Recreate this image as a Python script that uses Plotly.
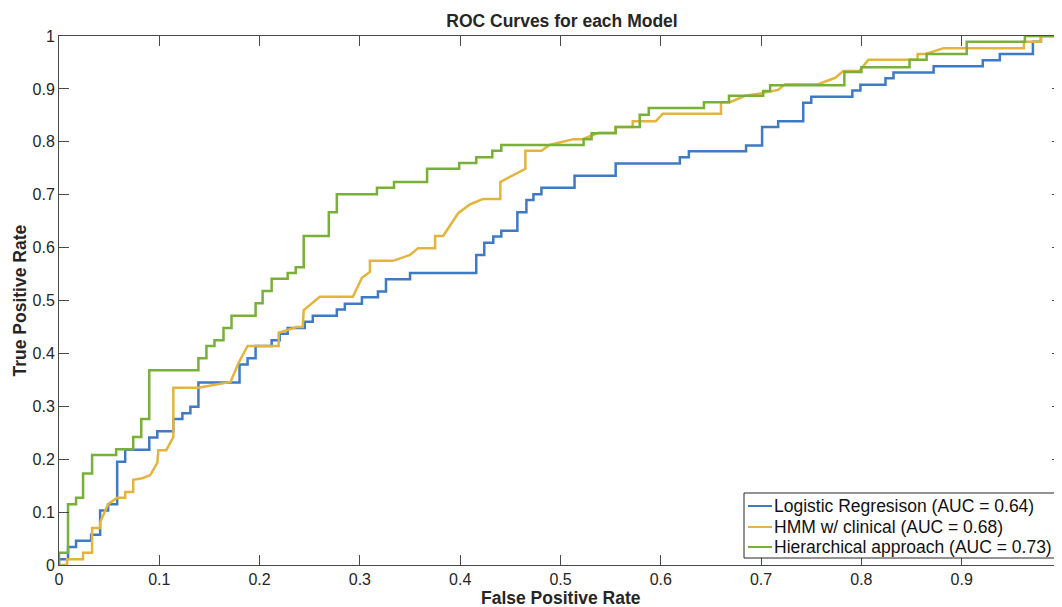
import plotly.graph_objects as go

# ---------------- data ----------------
series_names = [
    "Logistic Regresison (AUC = 0.64)",
    "HMM w/ clinical (AUC = 0.68)",
    "Hierarchical approach (AUC = 0.73)",
]

# Logistic regression ROC: staircase rise points (FPR, TPR after rise)
lr_fpr = [0, 0, 0.009, 0.017, 0.032, 0.041, 0.049, 0.058, 0.066, 0.090, 0.098,
          0.114, 0.123, 0.131, 0.139, 0.180, 0.188, 0.196, 0.212, 0.220, 0.228,
          0.245, 0.253, 0.277, 0.285, 0.302, 0.318, 0.326, 0.350, 0.416, 0.424,
          0.433, 0.441, 0.457, 0.466, 0.473, 0.481, 0.514, 0.555, 0.619, 0.628,
          0.685, 0.701, 0.717, 0.742, 0.750, 0.791, 0.799, 0.824, 0.832, 0.872,
          0.921, 0.938, 0.971, 0.979, 1.0]
lr_tpr = [0, 0.011, 0.034, 0.046, 0.057, 0.103, 0.115, 0.195, 0.218, 0.241, 0.253,
          0.276, 0.287, 0.299, 0.345, 0.379, 0.391, 0.414, 0.425, 0.437, 0.448,
          0.460, 0.471, 0.483, 0.494, 0.506, 0.517, 0.540, 0.552, 0.586, 0.609,
          0.621, 0.632, 0.667, 0.690, 0.701, 0.713, 0.736, 0.759, 0.771, 0.782,
          0.793, 0.828, 0.839, 0.874, 0.885, 0.897, 0.908, 0.920, 0.931, 0.943,
          0.954, 0.966, 0.989, 1.0, 1.0]

# HMM w/ clinical ROC: polyline vertices (FPR, TPR)
hmm_fpr = [0, 0.008, 0.008, 0.024, 0.024, 0.033, 0.033, 0.041, 0.041, 0.049,
           0.058, 0.066, 0.066, 0.074, 0.074, 0.083, 0.091, 0.098, 0.099, 0.107,
           0.114, 0.114, 0.139, 0.154, 0.171, 0.179, 0.188, 0.219, 0.219, 0.237,
           0.243, 0.244, 0.260, 0.293, 0.302, 0.310, 0.310, 0.333, 0.350, 0.358,
           0.375, 0.375, 0.383, 0.398, 0.410, 0.423, 0.440, 0.440, 0.465, 0.465,
           0.481, 0.489, 0.513, 0.522, 0.538, 0.555, 0.555, 0.572, 0.572, 0.595,
           0.602, 0.660, 0.660, 0.669, 0.684, 0.701, 0.717, 0.724, 0.757, 0.774,
           0.782, 0.798, 0.807, 0.856, 0.856, 0.864, 0.882, 0.962, 0.962, 0.979,
           0.979, 1.0]
hmm_tpr = [0, 0, 0.011, 0.011, 0.023, 0.023, 0.070, 0.070, 0.081, 0.115,
           0.127, 0.127, 0.138, 0.138, 0.161, 0.164, 0.170, 0.193, 0.217, 0.217,
           0.242, 0.335, 0.335, 0.340, 0.346, 0.382, 0.414, 0.414, 0.439, 0.450,
           0.450, 0.482, 0.507, 0.507, 0.543, 0.554, 0.575, 0.575, 0.586, 0.599,
           0.599, 0.622, 0.622, 0.665, 0.682, 0.692, 0.692, 0.724, 0.749, 0.783,
           0.783, 0.794, 0.805, 0.805, 0.817, 0.817, 0.828, 0.828, 0.839, 0.839,
           0.853, 0.853, 0.875, 0.875, 0.887, 0.892, 0.898, 0.909, 0.909, 0.921,
           0.934, 0.934, 0.955, 0.955, 0.966, 0.966, 0.977, 0.977, 0.989, 0.989,
           1.0, 1.0]

# Hierarchical approach ROC: staircase rise points (FPR, TPR after rise)
hier_fpr = [0, 0, 0.009, 0.017, 0.024, 0.033, 0.057, 0.074, 0.082, 0.090, 0.139,
            0.147, 0.155, 0.164, 0.172, 0.196, 0.203, 0.212, 0.228, 0.236, 0.244,
            0.269, 0.277, 0.317, 0.334, 0.367, 0.399, 0.416, 0.432, 0.441, 0.523,
            0.531, 0.555, 0.579, 0.588, 0.643, 0.668, 0.702, 0.709, 0.783, 0.800,
            0.848, 0.865, 0.905, 0.963, 1.0]
hier_tpr = [0, 0.023, 0.115, 0.127, 0.173, 0.208, 0.219, 0.242, 0.276, 0.368, 0.391,
            0.414, 0.425, 0.448, 0.471, 0.495, 0.518, 0.541, 0.552, 0.563, 0.622,
            0.667, 0.701, 0.713, 0.724, 0.749, 0.760, 0.771, 0.783, 0.794, 0.805,
            0.816, 0.828, 0.851, 0.864, 0.875, 0.887, 0.896, 0.907, 0.932, 0.941,
            0.955, 0.966, 0.989, 1.0, 1.0]

tick_vals = [0, 0.1, 0.2, 0.3, 0.4, 0.5, 0.6, 0.7, 0.8, 0.9, 1]
tick_text = ["0", "0.1", "0.2", "0.3", "0.4", "0.5", "0.6", "0.7", "0.8", "0.9", "1"]

title_text = "ROC Curves for each Model"
x_title = "False Positive Rate"
y_title = "True Positive Rate"

colors = ["#3f7ac6", "#e4b43c", "#79b03a"]

# ---------------- figure ----------------
FONT = "Liberation Sans, Arial, Helvetica, sans-serif"
TXT = "#262626"
AX = "#4a4a4a"

# page body has an 8px default margin; plot area targets 59..1062 x 36..565 (window px)
W, H = 1062, 607
OFF = 8
ML, MR, MT, MB = 59 - OFF, OFF, 36 - OFF, 42 + OFF
PW = (W - ML - MR)
PH = (H - MT - MB)


def px2x(px):
    return (px - 59) / PW


def px2y(py):
    return (565 - py) / PH


fig = go.Figure()
traces = [(lr_fpr, lr_tpr, "hv"), (hmm_fpr, hmm_tpr, "linear"), (hier_fpr, hier_tpr, "hv")]
for (xs, ys, shp), nm, col in zip(traces, series_names, colors):
    fig.add_trace(go.Scatter(x=xs, y=ys, mode="lines", name=nm, showlegend=False,
                             line=dict(color=col, width=2.5, shape=shp)))

axis_common = dict(
    range=[0, 1], tickmode="array", tickvals=tick_vals, ticktext=tick_text,
    ticks="inside", ticklen=10, tickwidth=1, tickcolor=AX,
    showline=True, linecolor=AX, linewidth=1, mirror="ticks",
    showgrid=False, zeroline=False, automargin=False,
    tickfont=dict(family=FONT, size=16, color=TXT),
)

fig.update_layout(
    width=W, height=H,
    template="none",
    paper_bgcolor="white", plot_bgcolor="white",
    margin=dict(l=ML, r=MR, t=MT, b=MB),
    xaxis=axis_common,
    yaxis=axis_common,
    title=dict(text="<b>" + title_text + "</b>", x=(562 - OFF) / W, xanchor="center",
               y=1 - (21 - OFF) / H, yanchor="middle",
               font=dict(family=FONT, size=17.5, color=TXT)),
    showlegend=False,
)

# axis titles
fig.add_annotation(text="<b>" + x_title + "</b>", xref="paper", yref="paper",
                   x=px2x(561), y=px2y(598), xanchor="center", yanchor="middle",
                   showarrow=False, font=dict(family=FONT, size=17.5, color=TXT))
fig.add_annotation(text="<b>" + y_title + "</b>", xref="paper", yref="paper",
                   x=px2x(19), y=0.5, xanchor="center", yanchor="middle",
                   textangle=-90, showarrow=False,
                   font=dict(family=FONT, size=17.5, color=TXT))

# legend (box, line samples, labels)
fig.add_shape(type="rect", xref="paper", yref="paper",
              x0=px2x(744), x1=px2x(1058), y0=px2y(558), y1=px2y(493),
              line=dict(color="#262626", width=1), fillcolor="white", layer="above")
leg_rows = [506, 527, 547]
for row, nm, col in zip(leg_rows, series_names, colors):
    fig.add_shape(type="line", xref="paper", yref="paper",
                  x0=px2x(748), x1=px2x(772), y0=px2y(row), y1=px2y(row),
                  line=dict(color=col, width=2), layer="above")
    fig.add_annotation(text=nm, xref="paper", yref="paper",
                       x=px2x(772), y=px2y(row), xanchor="left", yanchor="middle",
                       showarrow=False,
                       font=dict(family=FONT, size=17.5, color="#111111"))

fig.write_html("out.html")
